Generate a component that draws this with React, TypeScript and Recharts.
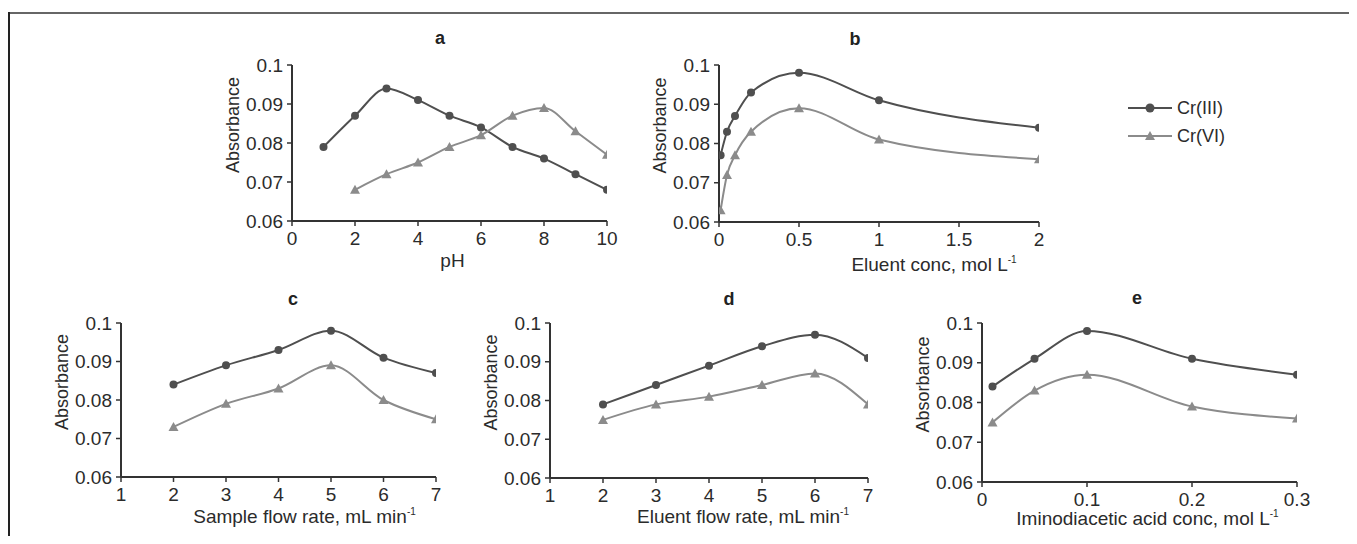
import React from 'react';
import { LineChart, Line, XAxis, YAxis } from 'recharts';

// panel a: pH
const phX = [1, 2, 3, 4, 5, 6, 7, 8, 9, 10];
const phCr3 = [0.079, 0.087, 0.094, 0.091, 0.087, 0.084, 0.079, 0.076, 0.072, 0.068];
const phCr6 = [null, 0.068, 0.072, 0.075, 0.079, 0.082, 0.087, 0.089, 0.083, 0.077];

// panel b: eluent concentration
const eluX = [0.01, 0.05, 0.1, 0.2, 0.5, 1, 2];
const eluCr3 = [0.077, 0.083, 0.087, 0.093, 0.098, 0.091, 0.084];
const eluCr6 = [0.063, 0.072, 0.077, 0.083, 0.089, 0.081, 0.076];

// panel c: sample flow rate
const sfrX = [2, 3, 4, 5, 6, 7];
const sfrCr3 = [0.084, 0.089, 0.093, 0.098, 0.091, 0.087];
const sfrCr6 = [0.073, 0.079, 0.083, 0.089, 0.08, 0.075];

// panel d: eluent flow rate
const efrX = [2, 3, 4, 5, 6, 7];
const efrCr3 = [0.079, 0.084, 0.089, 0.094, 0.097, 0.091];
const efrCr6 = [0.075, 0.079, 0.081, 0.084, 0.087, 0.079];

// panel e: iminodiacetic acid concentration
const idaX = [0.01, 0.05, 0.1, 0.2, 0.3];
const idaCr3 = [0.084, 0.091, 0.098, 0.091, 0.087];
const idaCr6 = [0.075, 0.083, 0.087, 0.079, 0.076];

const yTicks = [0.06, 0.07, 0.08, 0.09, 0.1];
const seriesNames = ['Cr(III)', 'Cr(VI)'];

const C3 = '#4f4f4f';
const C6 = '#8b8b8b';
const AXIS = '#333';
const TXT = '#2b2b2b';
const FONT = '"Liberation Sans", Arial, sans-serif';

const rows = (xs: number[], a: (number | null)[], b: (number | null)[]) =>
  xs.map((x, i) => ({ x, cr3: a[i], cr6: b[i] }));

const Triangle = (props: any) => {
  const { cx, cy, index } = props;
  if (cx == null || cy == null) return <g key={`t-${index}`} />;
  return (
    <polygon
      key={`t-${index}`}
      points={`${cx},${cy - 5} ${cx + 5},${cy + 4} ${cx - 5},${cy + 4}`}
      fill={C6}
    />
  );
};

interface PanelProps {
  data: any[];
  left: number;
  top: number;
  w: number;
  h: number;
  domain: [number, number];
  ticks: number[];
  label: string;
  sup?: boolean;
  labelDx: number;
  labelDy: number;
}

const Panel: React.FC<PanelProps> = ({ data, left, top, w, h, domain, ticks, label, sup, labelDx, labelDy }) => {
  const width = w + 90;
  const height = h + 70;
  return (
    <div style={{ position: 'absolute', left: left - 70 - 8, top: top - 10 - 8 }}>
      <LineChart width={width} height={height} data={data} margin={{ top: 10, right: 20, bottom: 0, left: 0 }}>
        <XAxis
          type="number"
          dataKey="x"
          domain={domain}
          ticks={ticks}
          interval={0}
          allowDataOverflow
          height={60}
          tickSize={5}
          tickMargin={6}
          axisLine={{ stroke: AXIS, strokeWidth: 2 }}
          tickLine={{ stroke: AXIS, strokeWidth: 1.5 }}
          tick={{ fontSize: 19, fill: TXT, fontFamily: FONT }}
          label={{
            content: () => {
              const x = 70 + w / 2 + labelDx;
              const y = 10 + h + labelDy;
              return (
                <text x={x} y={y} textAnchor="middle" fontSize={19} fill={TXT} fontFamily={FONT}>
                  <tspan>{label}</tspan>
                  {sup && (
                    <tspan dy={-8} fontSize={10}>
                      -1
                    </tspan>
                  )}
                </text>
              );
            },
          }}
        />
        <YAxis
          type="number"
          domain={[0.06, 0.1]}
          ticks={yTicks}
          interval={0}
          width={70}
          tickSize={5}
          tickMargin={4}
          tickFormatter={(v) => String(v)}
          axisLine={{ stroke: AXIS, strokeWidth: 2 }}
          tickLine={{ stroke: AXIS, strokeWidth: 1.5 }}
          tick={{ fontSize: 19, fill: TXT, fontFamily: FONT }}
          label={{
            content: () => {
              const x = 11;
              const y = 10 + h / 2 - 18;
              return (
                <text
                  x={x}
                  y={y}
                  transform={`rotate(-90 ${x} ${y})`}
                  textAnchor="middle"
                  dominantBaseline="central"
                  fontSize={18}
                  fill={TXT}
                  fontFamily={FONT}
                >
                  Absorbance
                </text>
              );
            },
          }}
        />
        <Line
          type="monotone"
          dataKey="cr3"
          name={seriesNames[0]}
          stroke={C3}
          strokeWidth={2}
          dot={{ r: 4, fill: C3, stroke: C3, strokeWidth: 0 }}
          isAnimationActive={false}
        />
        <Line
          type="monotone"
          dataKey="cr6"
          name={seriesNames[1]}
          stroke={C6}
          strokeWidth={2}
          dot={Triangle}
          isAnimationActive={false}
        />
      </LineChart>
    </div>
  );
};

const titles = [
  { t: 'a', x: 440, y: 44 },
  { t: 'b', x: 855, y: 45 },
  { t: 'c', x: 293, y: 305 },
  { t: 'd', x: 729, y: 305 },
  { t: 'e', x: 1137, y: 304 },
];

export default function App() {
  return (
    <div style={{ position: 'relative', width: 1341, height: 528, fontFamily: FONT, background: '#fff' }}>
      <div style={{ position: 'absolute', left: 0, top: 4, width: 1349, height: 2, background: '#666' }} />
      <div style={{ position: 'absolute', left: 0, top: 4, width: 2, height: 532, background: '#222' }} />

      <Panel data={rows(phX, phCr3, phCr6)} left={292} top={65} w={315} h={156}
        domain={[0, 10]} ticks={[0, 2, 4, 6, 8, 10]} label="pH" labelDx={3} labelDy={46} />
      <Panel data={rows(eluX, eluCr3, eluCr6)} left={719} top={65} w={320} h={157}
        domain={[0, 2]} ticks={[0, 0.5, 1, 1.5, 2]} label="Eluent conc, mol L" sup labelDx={55} labelDy={49} />
      <Panel data={rows(sfrX, sfrCr3, sfrCr6)} left={121} top={323} w={315} h={154}
        domain={[1, 7]} ticks={[1, 2, 3, 4, 5, 6, 7]} label="Sample flow rate, mL min" sup labelDx={26} labelDy={46} />
      <Panel data={rows(efrX, efrCr3, efrCr6)} left={550} top={323} w={318} h={155}
        domain={[1, 7]} ticks={[1, 2, 3, 4, 5, 6, 7]} label="Eluent flow rate, mL min" sup labelDx={34} labelDy={45} />
      <Panel data={rows(idaX, idaCr3, idaCr6)} left={982} top={323} w={315} h={159}
        domain={[0, 0.3]} ticks={[0, 0.1, 0.2, 0.3]} label="Iminodiacetic acid conc, mol L" sup labelDx={8} labelDy={43} />

      <svg
        width={1357}
        height={544}
        style={{ position: 'absolute', left: -8, top: -8, pointerEvents: 'none' }}
      >
        {titles.map((d) => (
          <text key={d.t} x={d.x} y={d.y} textAnchor="middle" fontSize={18} fontWeight="bold" fill="#222" fontFamily={FONT}>
            {d.t}
          </text>
        ))}
        <line x1={1128} y1={108} x2={1172} y2={108} stroke={C3} strokeWidth={2} />
        <circle cx={1150} cy={108} r={4.5} fill={C3} />
        <text x={1177} y={114} fontSize={18} fill={TXT} fontFamily={FONT}>
          {seriesNames[0]}
        </text>
        <line x1={1128} y1={136} x2={1172} y2={136} stroke={C6} strokeWidth={2} />
        <polygon points="1150,131 1155,140 1145,140" fill={C6} />
        <text x={1177} y={142} fontSize={18} fill={TXT} fontFamily={FONT}>
          {seriesNames[1]}
        </text>
      </svg>
    </div>
  );
}
